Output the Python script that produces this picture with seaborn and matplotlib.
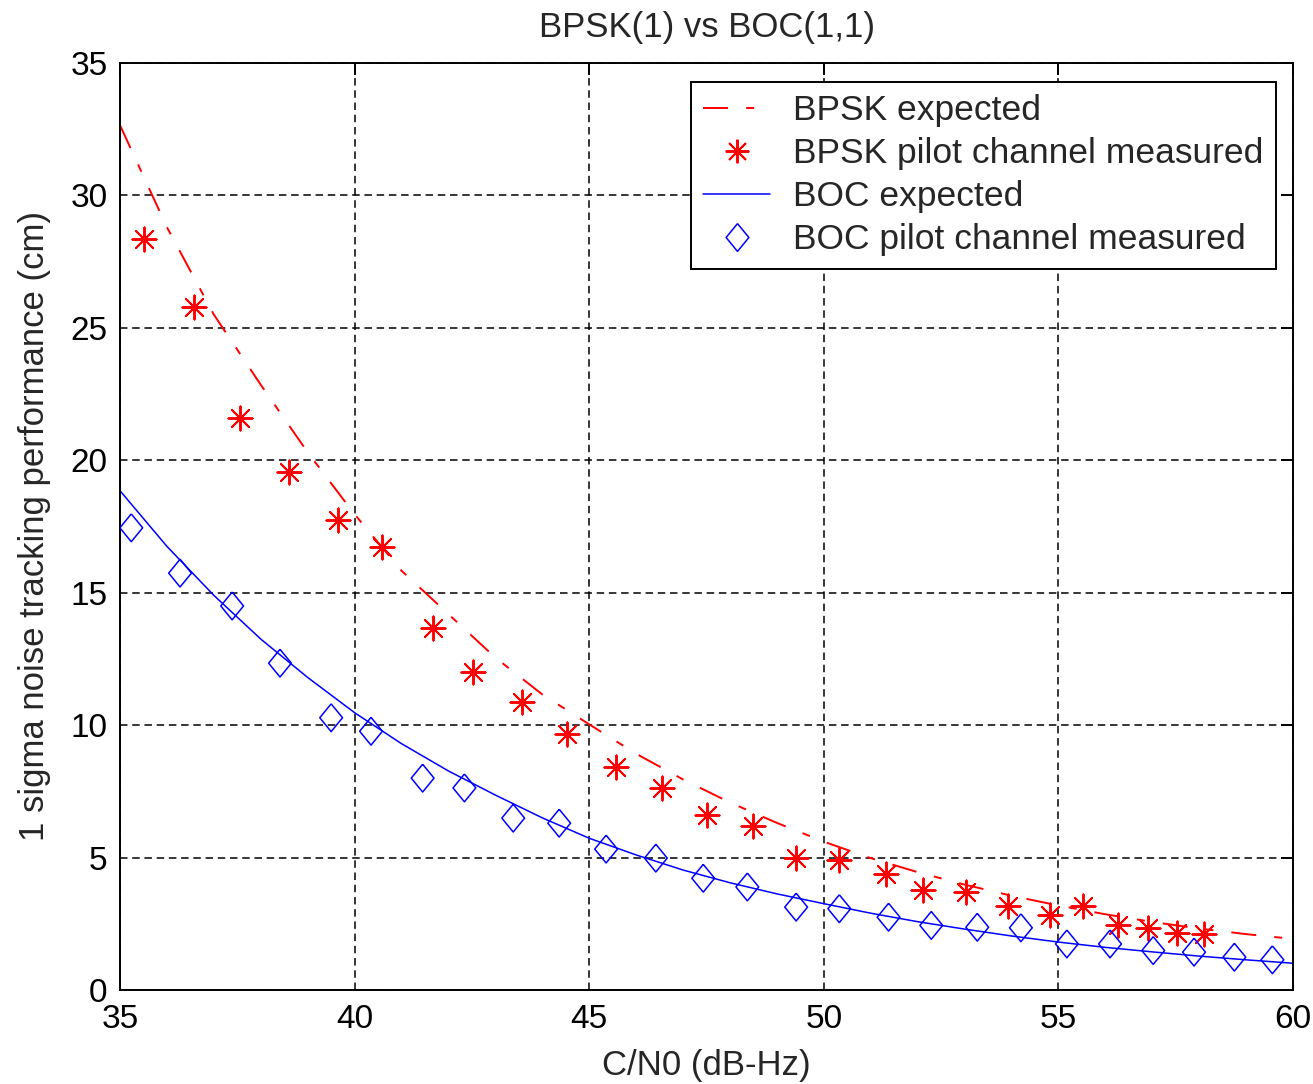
"""
BPSK(1) vs BOC(1,1) code tracking noise: expected curves and pilot-channel measurements.
"""

import numpy as np
import pandas as pd
import matplotlib
matplotlib.use("Agg")
import matplotlib.pyplot as plt
import seaborn as sns
from matplotlib.lines import Line2D

# ─────────────────────────────────────────────
# Data
# ─────────────────────────────────────────────
cn0_expected = [35, 36, 37, 38, 39, 40, 41, 42, 43, 44, 45, 46, 47,
                48, 49, 50, 51, 52, 53, 54, 55, 56, 57, 58, 59, 60]
bpsk_expected = [32.65, 28.8, 25.5, 22.85, 20.3, 17.96, 15.83, 14.19, 12.55,
                 11.16, 10.03, 8.92, 7.95, 7.08, 6.31, 5.6, 4.98, 4.45, 3.98,
                 3.56, 3.19, 2.86, 2.57, 2.32, 2.11, 1.93]
boc_expected = [18.85, 16.75, 14.9, 13.25, 11.8, 10.47, 9.3, 8.27, 7.36, 6.5,
                5.73, 5.1, 4.53, 4.05, 3.63, 3.26, 2.9, 2.58, 2.3, 2.04, 1.81,
                1.61, 1.44, 1.28, 1.14, 1.01]

bpsk_meas_x = [35.52, 36.58, 37.56, 38.60, 39.65, 40.58, 41.67, 42.52, 43.56,
               44.53, 45.57, 46.55, 47.52, 48.49, 49.41, 50.33, 51.32, 52.12,
               53.04, 53.92, 54.83, 55.52, 56.27, 56.90, 57.53, 58.11]
bpsk_meas_y = [28.36, 25.80, 21.61, 19.55, 17.75, 16.72, 13.65, 12.02, 10.88,
               9.67, 8.42, 7.63, 6.62, 6.20, 5.00, 4.90, 4.39, 3.76, 3.70,
               3.17, 2.85, 3.17, 2.44, 2.35, 2.16, 2.10]

boc_meas_x = [35.24, 36.28, 37.39, 38.41, 39.50, 40.35, 41.45, 42.34, 43.38,
              44.36, 45.36, 46.42, 47.43, 48.37, 49.41, 50.33, 51.38, 52.29,
              53.27, 54.20, 55.18, 56.10, 57.02, 57.89, 58.75, 59.56]
boc_meas_y = [17.45, 15.74, 14.50, 12.34, 10.28, 9.77, 8.00, 7.63, 6.49, 6.30,
              5.32, 4.98, 4.22, 3.89, 3.13, 3.07, 2.75, 2.44, 2.37, 2.35, 1.74,
              1.74, 1.49, 1.43, 1.24, 1.14]

# ─────────────────────────────────────────────
# Style
# ─────────────────────────────────────────────
sns.set_style("white")
plt.rcParams["font.family"] = ["Liberation Sans", "DejaVu Sans"]

RED_DASHDOT = (0, (12.9, 9.3, 4.1, 9.3))
GRID_DASH = (0, (4.9, 3.1))
ASTERISK = (8, 2, 0)
DIAMOND = [(0, 1), (0.82, 0), (0, -1), (-0.82, 0), (0, 1)]

fig = plt.figure(figsize=(13.13, 10.84), dpi=100)
ax = fig.add_axes([0.0914, 0.0867, 0.8934, 0.8552])

# expected curves
sns.lineplot(x=cn0_expected, y=bpsk_expected, ax=ax, color="red",
             linewidth=1.4, linestyle=RED_DASHDOT)
sns.lineplot(x=cn0_expected, y=boc_expected, ax=ax, color="blue",
             linewidth=1.1)

# measurements
sns.scatterplot(x=bpsk_meas_x, y=bpsk_meas_y, ax=ax, marker=ASTERISK,
                s=300, color="red", linewidth=1.4, zorder=3)
sns.scatterplot(x=boc_meas_x, y=boc_meas_y, ax=ax, marker=DIAMOND,
                s=400, facecolor="none", edgecolor="blue", linewidth=1.1,
                zorder=3)

# axes
ax.set_xlim(35, 60)
ax.set_ylim(0, 35)
ax.set_xticks(np.arange(35, 61, 5))
ax.set_yticks(np.arange(0, 36, 5))
ax.tick_params(direction="in", top=True, right=True, length=8.5, width=1.4,
               labelsize=24, colors="black")
ax.tick_params(axis="x", pad=10)
ax.tick_params(axis="y", pad=9)
ax.grid(True, color="black", linestyle=GRID_DASH, linewidth=1.1)
for sp in ax.spines.values():
    sp.set_visible(True)
    sp.set_color("black")
    sp.set_linewidth(1.4)

ax.set_title("BPSK(1) vs BOC(1,1)", fontsize=25, pad=19)
ax.set_xlabel("C/N0 (dB-Hz)", fontsize=25, labelpad=10)
ax.set_ylabel("1 sigma noise tracking performance (cm)", fontsize=25,
              labelpad=14)

# legend
handles = [
    Line2D([], [], color="red", linewidth=1.4, linestyle=RED_DASHDOT),
    Line2D([], [], color="red", linestyle="none", marker=ASTERISK,
           markersize=17, markeredgewidth=1.4),
    Line2D([], [], color="blue", linewidth=1.1),
    Line2D([], [], color="blue", linestyle="none", marker=DIAMOND,
           markersize=20, markerfacecolor="none", markeredgewidth=1.1),
]
labels = ["BPSK expected", "BPSK pilot channel measured",
          "BOC expected", "BOC pilot channel measured"]
leg = ax.legend(handles, labels, loc="upper right",
                bbox_to_anchor=(0.9855, 0.9795), borderaxespad=0,
                fontsize=25.5, frameon=True, fancybox=False, framealpha=1,
                edgecolor="black", handlelength=1.9, handletextpad=0.65,
                labelspacing=0.28, borderpad=0.35)
leg.get_frame().set_linewidth(1.4)

fig.savefig("out.png", dpi=100, facecolor="white")
